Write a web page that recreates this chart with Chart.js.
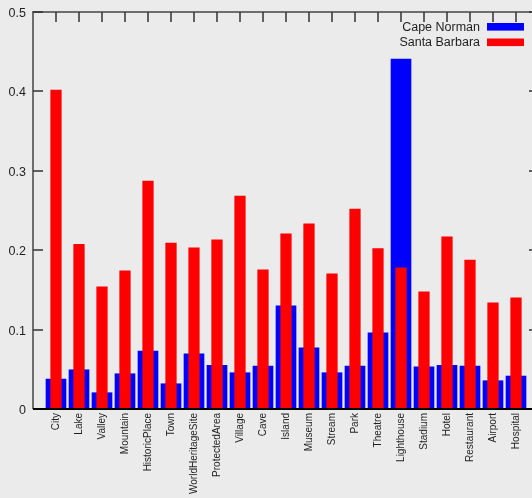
<!DOCTYPE html>
<html>
<head>
<meta charset="utf-8">
<script src="https://cdn.jsdelivr.net/npm/chart.js@4.4.1/dist/chart.umd.min.js"></script>
<style>
  html, body { margin: 0; padding: 0; overflow: hidden; background: #ebebeb; width: 532px; height: 498px; }
  canvas { display: block; }
</style>
</head>
<body>
<canvas id="c" width="540" height="498"></canvas>
<script>
// Place types and the share of each in the two locations
const categories = ['City', 'Lake', 'Valley', 'Mountain', 'HistoricPlace', 'Town', 'WorldHeritageSite',
  'ProtectedArea', 'Village', 'Cave', 'Island', 'Museum', 'Stream', 'Park', 'Theatre', 'Lighthouse',
  'Stadium', 'Hotel', 'Restaurant', 'Airport', 'Hospital'];
const capeNorman = [0.0377, 0.0494, 0.0205, 0.0444, 0.0730, 0.0318, 0.0696, 0.0549, 0.0457, 0.0541,
  0.1300, 0.0771, 0.0457, 0.0541, 0.0960, 0.4406, 0.0532, 0.0549, 0.0541, 0.0356, 0.0415];
const santaBarbara = [0.4016, 0.2075, 0.1538, 0.1740, 0.2870, 0.2090, 0.2029, 0.2130, 0.2683, 0.1752,
  0.2205, 0.2331, 0.1702, 0.2519, 0.2021, 0.1777, 0.1475, 0.2167, 0.1874, 0.1337, 0.1400];
const yTickValues = [0, 0.1, 0.2, 0.3, 0.4, 0.5];
const yTickLabels = ['0', '0.1', '0.2', '0.3', '0.4', '0.5'];

const FONT = '"Liberation Sans", Arial, sans-serif';
const TEXT = '#1e1e1e';

// Grey page, border, inward tick marks and the key in the top-right corner
const frame = {
  id: 'frame',
  beforeDraw(chart) {
    const ctx = chart.ctx;
    ctx.save();
    ctx.fillStyle = '#ebebeb';
    ctx.fillRect(0, 0, chart.width, chart.height);
    ctx.restore();
  },
  afterDatasetsDraw(chart) {
    const { ctx, chartArea: a, scales: { x, y } } = chart;
    ctx.save();
    ctx.strokeStyle = '#6e6e6e';
    ctx.lineWidth = 2;
    ctx.beginPath();
    ctx.moveTo(a.left, a.bottom);
    ctx.lineTo(a.left, a.top);
    ctx.lineTo(a.right, a.top);
    ctx.lineTo(a.right, a.bottom);
    ctx.stroke();

    ctx.strokeStyle = '#333';
    ctx.lineWidth = 1.5;
    ctx.beginPath();
    yTickValues.forEach(v => {
      const py = Math.round(y.getPixelForValue(v));
      ctx.moveTo(a.left, py); ctx.lineTo(a.left + 10, py);
      ctx.moveTo(a.right, py); ctx.lineTo(a.right - 10, py);
    });
    categories.forEach((c, i) => {
      const px = Math.round(x.getPixelForValue(i + 1));
      ctx.moveTo(px, a.top); ctx.lineTo(px, a.top + 10);
    });
    ctx.stroke();

    // zero line along the bottom
    const y0 = y.getPixelForValue(0);
    ctx.strokeStyle = '#000';
    ctx.lineWidth = 2.2;
    ctx.beginPath();
    ctx.moveTo(a.left, y0); ctx.lineTo(a.right, y0);
    ctx.stroke();

    // key
    ctx.font = '12.5px ' + FONT;
    ctx.textAlign = 'right';
    ctx.textBaseline = 'alphabetic';
    const rows = [30.5, 46];
    chart.data.datasets.forEach((ds, i) => {
      ctx.fillStyle = TEXT;
      ctx.fillText(ds.label, 480, rows[i]);
      ctx.fillStyle = ds.backgroundColor;
      ctx.fillRect(487, rows[i] - 7.5, 37, 7.6);
    });
    ctx.restore();
  }
};

const toPoints = arr => arr.map((v, i) => ({ x: i + 1, y: v }));

new Chart(document.getElementById('c'), {
  type: 'bar',
  data: {
    datasets: [
      { label: 'Cape Norman', data: toPoints(capeNorman), backgroundColor: '#0000ff',
        barThickness: 20, grouped: false, order: 2, borderWidth: 0 },
      { label: 'Santa Barbara', data: toPoints(santaBarbara), backgroundColor: '#ff0000',
        barThickness: 10.6, grouped: false, order: 1, borderWidth: 0 }
    ]
  },
  options: {
    responsive: false,
    animation: false,
    devicePixelRatio: 1,
    layout: { padding: { top: 12, right: 1, left: 0, bottom: 0 } },
    plugins: { legend: { display: false }, tooltip: { enabled: false } },
    scales: {
      x: {
        type: 'linear',
        offset: false,
        min: 0,
        max: categories.length + 1,
        grid: { display: false, drawTicks: false },
        border: { display: false },
        afterBuildTicks: s => { s.ticks = categories.map((c, i) => ({ value: i + 1 })); },
        afterFit: s => { s.height = 89; s.paddingLeft = 0; s.paddingRight = 0; },
        ticks: {
          autoSkip: false,
          minRotation: 90,
          maxRotation: 90,
          padding: 4,
          color: TEXT,
          font: { family: FONT, size: 10 },
          callback: v => categories[v - 1]
        }
      },
      y: {
        min: 0,
        max: 0.5,
        grid: { display: false, drawTicks: false },
        border: { display: false },
        afterBuildTicks: s => { s.ticks = yTickValues.map(v => ({ value: v })); },
        afterFit: s => { s.width = 33; s.paddingTop = 0; s.paddingBottom = 0; },
        ticks: {
          padding: 7,
          labelOffset: 1.5,
          color: TEXT,
          font: { family: FONT, size: 12.5 },
          callback: (v, i) => yTickLabels[i]
        }
      }
    }
  },
  plugins: [frame]
});
</script>
</body>
</html>
